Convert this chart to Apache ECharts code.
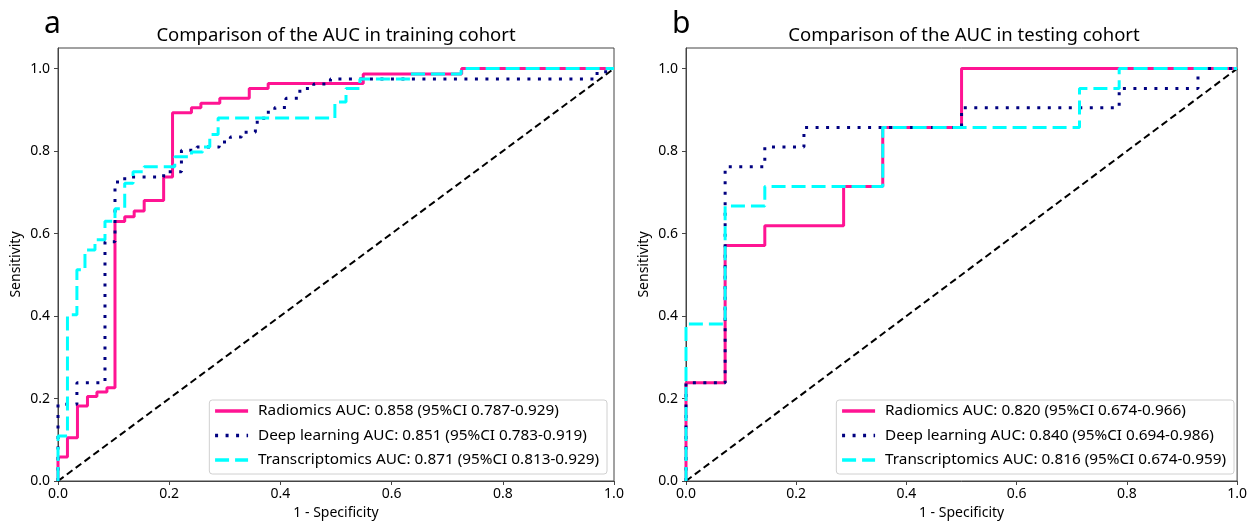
<!DOCTYPE html>
<html>
<head>
<meta charset="utf-8">
<script src="https://cdn.jsdelivr.net/npm/echarts@6/dist/echarts.min.js"></script>
<style>html,body{margin:0;padding:0;background:#fff}#c{width:1250px;height:525px}</style>
</head>
<body>
<div id="c"></div>
<script>
// ROC corner points (drawn as steps: horizontal then vertical)
const trainRadFpr = [0, 0, 0.017, 0.035, 0.053, 0.070, 0.088, 0.1025, 0.120, 0.137, 0.155, 0.190, 0.206, 0.240, 0.257, 0.291, 0.344, 0.378, 0.549, 0.726, 1];
const trainRadTpr = [0, 0.058, 0.105, 0.182, 0.205, 0.216, 0.226, 0.629, 0.641, 0.655, 0.680, 0.737, 0.893, 0.905, 0.916, 0.928, 0.952, 0.964, 0.987, 1, 1];
const trainDlFpr = [0, 0, 0.034, 0.0845, 0.1025, 0.120, 0.190, 0.222, 0.250, 0.290, 0.310, 0.330, 0.355, 0.370, 0.390, 0.410, 0.435, 0.460, 0.490, 0.965, 0.985, 1];
const trainDlTpr = [0, 0.186, 0.238, 0.580, 0.725, 0.737, 0.750, 0.802, 0.810, 0.822, 0.834, 0.846, 0.870, 0.894, 0.906, 0.928, 0.952, 0.963, 0.975, 0.988, 1, 1];
const trainTrFpr = [0, 0, 0.017, 0.034, 0.0485, 0.0665, 0.0845, 0.1025, 0.120, 0.135, 0.155, 0.210, 0.240, 0.260, 0.273, 0.288, 0.498, 0.518, 0.543, 0.633, 0.725, 1];
const trainTrTpr = [0, 0.109, 0.403, 0.512, 0.560, 0.585, 0.630, 0.660, 0.722, 0.750, 0.762, 0.786, 0.798, 0.810, 0.840, 0.880, 0.919, 0.952, 0.975, 0.987, 1, 1];

const testRadFpr = [0, 0, 0.071, 0.143, 0.286, 0.357, 0.500, 1];
const testRadTpr = [0, 0.238, 0.571, 0.619, 0.714, 0.857, 1, 1];
const testDlFpr = [0, 0, 0.071, 0.143, 0.214, 0.500, 0.786, 0.929, 1];
const testDlTpr = [0, 0.238, 0.762, 0.810, 0.857, 0.905, 0.952, 1, 1];
const testTrFpr = [0, 0, 0.071, 0.143, 0.357, 0.714, 0.786, 1];
const testTrTpr = [0, 0.381, 0.667, 0.714, 0.857, 0.952, 1, 1];

const trainNames = [
  'Radiomics AUC: 0.858 (95%CI 0.787-0.929)',
  'Deep learning AUC: 0.851 (95%CI 0.783-0.919)',
  'Transcriptomics AUC: 0.871 (95%CI 0.813-0.929)'
];
const testNames = [
  'Radiomics AUC: 0.820 (95%CI 0.674-0.966)',
  'Deep learning AUC: 0.840 (95%CI 0.694-0.986)',
  'Transcriptomics AUC: 0.816 (95%CI 0.674-0.959)'
];
const titles = ['Comparison of the AUC in training cohort', 'Comparison of the AUC in testing cohort'];
const panelLetters = ['a', 'b'];
const tickValues = [0, 0.2, 0.4, 0.6, 0.8, 1.0];

const FONT = 'Noto Sans';
const colors = ['#FF1493', '#000080', '#00FFFF'];
const lineTypes = ['solid', [3, 7.5], [14, 6]];

function pairs(xs, ys) { return xs.map((x, i) => [x, ys[i]]); }

const axisCommon = {
  type: 'value', min: 0,
  axisLine: { show: true, lineStyle: { color: '#444', width: 1 } },
  axisTick: { show: true, inside: false, length: 4, customValues: tickValues, lineStyle: { color: '#444' } },
  axisLabel: { customValues: tickValues, color: '#000', fontSize: 14, fontFamily: FONT, formatter: v => v.toFixed(1) },
  splitLine: { show: false },
  nameLocation: 'middle',
  nameTextStyle: { color: '#000', fontSize: 14, fontFamily: FONT }
};

const grids = [
  { left: 58, right: 636, top: 48, bottom: 43, show: true, borderColor: '#444', borderWidth: 1 },
  { left: 686, right: 9, top: 48, bottom: 43, show: true, borderColor: '#444', borderWidth: 1 }
];
const xAxes = [0, 1].map(i => Object.assign({}, axisCommon, {
  gridIndex: i, max: 1, name: '1 - Specificity', nameGap: 25,
  axisLabel: Object.assign({}, axisCommon.axisLabel, { margin: 6 })
}));
const yAxes = [0, 1].map(i => Object.assign({}, axisCommon, {
  gridIndex: i, max: 1.05, name: 'Sensitivity', nameGap: 35,
  axisLabel: Object.assign({}, axisCommon.axisLabel, { margin: 8 })
}));

const seriesData = [
  [pairs(trainRadFpr, trainRadTpr), pairs(trainDlFpr, trainDlTpr), pairs(trainTrFpr, trainTrTpr)],
  [pairs(testRadFpr, testRadTpr), pairs(testDlFpr, testDlTpr), pairs(testTrFpr, testTrTpr)]
];
const nameSets = [trainNames, testNames];

const series = [];
[0, 1].forEach(g => {
  series.push({
    type: 'line', xAxisIndex: g, yAxisIndex: g, data: [[0, 0], [1, 1]],
    showSymbol: false, symbol: 'none', silent: true, z: 1,
    lineStyle: { color: '#000', width: 2, type: [7, 4] }
  });
  [0, 1, 2].forEach(k => {
    series.push({
      name: nameSets[g][k], type: 'line', xAxisIndex: g, yAxisIndex: g,
      data: seriesData[g][k], step: 'end', symbol: 'none', showSymbol: false,
      z: 2 + k, animation: false,
      itemStyle: { color: colors[k] },
      lineStyle: { color: colors[k], width: 3, type: lineTypes[k] }
    });
  });
});

const legends = [0, 1].map(g => ({
  orient: 'vertical',
  right: g === 0 ? 643 : 16,
  bottom: 51,
  itemWidth: 33, itemHeight: 16, itemGap: 8.5,
  padding: [3, 8, 6, 4],
  borderColor: '#d0d0d0', borderWidth: 1, borderRadius: 3,
  backgroundColor: 'rgba(255,255,255,0.85)',
  textStyle: { fontSize: 15.3, fontFamily: FONT, color: '#000', lineHeight: 16, padding: [0, 0, 0, 5] },
  selectedMode: false,
  data: nameSets[g].map((n, k) => ({
    name: n,
    itemStyle: { opacity: 0 },
    lineStyle: { color: colors[k], width: 3.5, type: lineTypes[k], opacity: 1 }
  }))
}));

const graphics = [
  { type: 'text', x: 336, y: 36, style: { text: titles[0], font: '18.5px "' + FONT + '"', fill: '#000', align: 'center', verticalAlign: 'middle' } },
  { type: 'text', x: 964, y: 36, style: { text: titles[1], font: '18.5px "' + FONT + '"', fill: '#000', align: 'center', verticalAlign: 'middle' } },
  { type: 'text', x: 44, y: 24, style: { text: panelLetters[0], font: '30px "' + FONT + '"', fill: '#000', align: 'left', verticalAlign: 'middle' } },
  { type: 'text', x: 672, y: 24, style: { text: panelLetters[1], font: '30px "' + FONT + '"', fill: '#000', align: 'left', verticalAlign: 'middle' } }
];

const chart = echarts.init(document.getElementById('c'), null, { renderer: 'canvas' });
chart.setOption({
  animation: false,
  backgroundColor: '#fff',
  grid: grids, xAxis: xAxes, yAxis: yAxes,
  legend: legends, series: series, graphic: graphics
});
</script>
</body>
</html>
